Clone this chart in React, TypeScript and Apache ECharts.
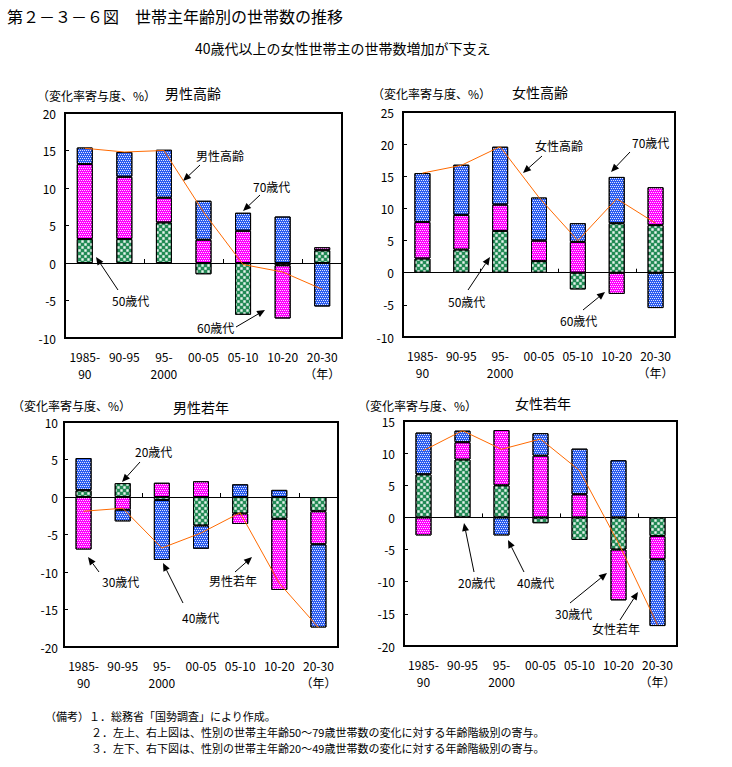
import React, { useEffect, useRef } from 'react';
import * as echarts from 'echarts';

const categories = ['1985-\n90', '90-95', '95-\n2000', '00-05', '05-10', '10-20', '20-30\n（年）'];

// 男性高齢 (50歳代, 60歳代, 70歳代, 合計)
const maleOld50 = [3.2, 3.2, 5.4, -1.5, -6.9, -0.3, 1.7];
const maleOld60 = [10.0, 8.3, 3.3, 3.1, 4.3, -7.1, 0.4];
const maleOld70 = [2.2, 3.3, 6.4, 5.2, 2.4, 6.2, -5.8];
const maleOldTotal = [15.3, 14.8, 15.0, 6.8, -0.2, -1.2, -3.5];

// 女性高齢
const femaleOld50 = [2.2, 3.6, 6.5, 1.8, -2.6, 7.7, 7.4];
const femaleOld60 = [5.7, 5.4, 4.1, 3.2, 4.8, -3.3, 5.9];
const femaleOld70 = [7.6, 7.8, 9.0, 6.7, 2.9, 7.2, -5.5];
const femaleOldTotal = [15.5, 16.7, 19.6, 11.7, 5.0, 11.5, 7.7];

// 男性若年 (20歳代, 30歳代, 40歳代, 合計)
const maleYoung20 = [0.9, 1.85, -0.4, -3.8, -2.2, -2.9, -1.9];
const maleYoung30 = [-7.0, -1.7, 1.9, 2.1, -1.4, -9.5, -4.4];
const maleYoung40 = [4.3, -1.55, -8.0, -3.1, 1.7, 0.95, -11.1];
const maleYoungTotal = [-1.9, -1.5, -6.8, -4.8, -2.1, -11.5, -17.4];

// 女性若年
const femaleYoung20 = [6.7, 9.0, 5.0, -0.9, -3.5, -5.0, -2.9];
const femaleYoung30 = [-2.8, 2.7, 8.6, 9.6, 3.6, -7.9, -3.6];
const femaleYoung40 = [6.5, 1.8, -2.8, 3.5, 7.1, 8.9, -10.4];
const femaleYoungTotal = [10.4, 13.5, 10.6, 12.2, 7.3, -4.0, -16.7];

const yRanges = [
  [-10, 20],
  [-10, 25],
  [-20, 10],
  [-20, 15],
];

const panelTitles = ['男性高齢', '女性高齢', '男性若年', '女性若年'];
const axisTitle = '（変化率寄与度、%）';

const FONT = "'Noto Sans CJK JP', 'Noto Sans CJK SC', sans-serif";

const grids = [
  { left: 65, top: 113, width: 277, height: 225 },
  { left: 403, top: 112, width: 272, height: 225 },
  { left: 64, top: 422, width: 274, height: 225 },
  { left: 404, top: 421, width: 273, height: 225 },
];

const GREEN = '#238a55';
const PINK = '#ff00ff';
const BLUE = '#2b5cf0';

const decalDots = {
  symbol: 'rect',
  symbolSize: 1,
  color: 'rgba(255,255,255,0.85)',
  dashArrayX: [[1, 1], [0, 1, 1, 0]],
  dashArrayY: [1, 1],
  rotation: 0,
};
const decalCheck = {
  symbol: 'rect',
  symbolSize: 0.8,
  color: 'rgba(255,255,255,0.9)',
  dashArrayX: [[3, 3], [0, 3, 3, 0]],
  dashArrayY: [3, 0],
  rotation: 0,
};

function arrow(x1: number, y1: number, x2: number, y2: number) {
  const ang = Math.atan2(y2 - y1, x2 - x1);
  const L = 8;
  const W = 3.5;
  const bx = x2 - L * Math.cos(ang);
  const by = y2 - L * Math.sin(ang);
  const px = -Math.sin(ang) * W;
  const py = Math.cos(ang) * W;
  return [
    { type: 'line', silent: true, shape: { x1, y1, x2: bx, y2: by }, style: { stroke: '#000', lineWidth: 1 } },
    {
      type: 'polygon',
      silent: true,
      shape: { points: [[x2, y2], [bx + px, by + py], [bx - px, by - py]] },
      style: { fill: '#000' },
    },
  ];
}

function txt(text: string, x: number, y: number, size = 12, align = 'left') {
  return {
    type: 'text',
    silent: true,
    x,
    y,
    style: {
      text,
      font: `${size}px ${FONT}`,
      fill: '#000',
      lineHeight: size + 1,
      textAlign: align,
      textVerticalAlign: 'middle',
      align,
      verticalAlign: 'middle',
    },
  };
}

// annotation: label text, label x, label y, arrow from, arrow to
const annotations: [string, number, number, number, number, number, number][] = [
  ['男性高齢', 196, 155, 200, 165, 183, 181],
  ['70歳代', 253, 186, 260, 195, 243, 211],
  ['50歳代', 112, 300, 118, 290, 96, 257],
  ['60歳代', 197, 327, 236, 327, 265, 310],
  ['女性高齢', 535, 145, 542, 156, 523, 173],
  ['70歳代', 632, 142, 630, 152, 611, 172],
  ['50歳代', 448, 301, 468, 290, 490, 257],
  ['60歳代', 560, 320, 583, 310, 605, 292],
  ['20歳代', 135, 451, 140, 462, 122, 482],
  ['30歳代', 102, 581, 99, 572, 88, 557],
  ['40歳代', 182, 617, 183, 603, 163, 563],
  ['男性若年', 209, 580, 235, 572, 252, 557],
  ['20歳代', 458, 582, 474, 572, 464, 523],
  ['40歳代', 517, 582, 524, 572, 508, 540],
  ['30歳代', 555, 613, 570, 603, 607, 573],
  ['女性若年', 592, 628, 620, 620, 638, 592],
];

export default function App() {
  const ref = useRef<HTMLDivElement>(null);

  useEffect(() => {
    document.body.style.margin = '0';
    if (!ref.current) return;
    const chart = echarts.init(ref.current, null, { renderer: 'svg' });

    const panels = [
      [maleOld50, maleOld60, maleOld70, maleOldTotal],
      [femaleOld50, femaleOld60, femaleOld70, femaleOldTotal],
      [maleYoung20, maleYoung30, maleYoung40, maleYoungTotal],
      [femaleYoung20, femaleYoung30, femaleYoung40, femaleYoungTotal],
    ];
    const names = [
      ['50歳代', '60歳代', '70歳代', '男性高齢'],
      ['50歳代', '60歳代', '70歳代', '女性高齢'],
      ['20歳代', '30歳代', '40歳代', '男性若年'],
      ['20歳代', '30歳代', '40歳代', '女性若年'],
    ];

    const xAxis: any[] = [];
    const yAxis: any[] = [];
    const series: any[] = [];

    grids.forEach((g, i) => {
      xAxis.push({
        type: 'category',
        gridIndex: i,
        data: categories,
        position: 'bottom',
        axisLine: { show: false, onZero: false },
        axisTick: { show: false },
        axisLabel: { interval: 0, fontSize: 12, fontFamily: FONT, color: '#000', lineHeight: 17, margin: 10 },
        splitLine: { show: false },
      });
      xAxis.push({
        type: 'category',
        gridIndex: i,
        data: categories,
        position: 'bottom',
        axisLine: { show: true, onZero: true, lineStyle: { color: '#000', width: 1 } },
        axisTick: { show: true, inside: true, length: 4, lineStyle: { color: '#000' } },
        axisLabel: { show: false },
        splitLine: { show: false },
      });
      yAxis.push({
        type: 'value',
        gridIndex: i,
        min: yRanges[i][0],
        max: yRanges[i][1],
        interval: 5,
        axisLine: { show: false },
        axisTick: { show: true, inside: true, length: 4, lineStyle: { color: '#000' } },
        axisLabel: { fontSize: 12, fontFamily: FONT, color: '#000', margin: i === 2 ? 6 : 9 },
        splitLine: { show: false },
      });
      const [a, b, c, t] = panels[i];
      const colors = [GREEN, PINK, BLUE];
      const decals = [decalCheck, decalDots, decalDots];
      [a, b, c].forEach((d, k) => {
        series.push({
          type: 'bar',
          name: names[i][k],
          xAxisIndex: 2 * i,
          yAxisIndex: i,
          stack: 'p' + i,
          barWidth: 16,
          data: d,
          itemStyle: { color: colors[k], borderColor: '#000', borderWidth: 1, decal: decals[k] },
          z: 2,
        });
      });
      series.push({
        type: 'line',
        name: names[i][3],
        xAxisIndex: 2 * i,
        yAxisIndex: i,
        data: t,
        symbol: 'none',
        lineStyle: { color: '#ff6a00', width: 1 },
        z: 5,
      });
    });

    const graphic: any[] = [
      txt('第２－３－６図　世帯主年齢別の世帯数の推移', 7, 16, 16),
      txt('40歳代以上の女性世帯主の世帯数増加が下支え', 195, 48, 14),
      txt(axisTitle, 37, 95, 12),
      txt(panelTitles[0], 165, 93, 14),
      txt(axisTitle, 372, 93, 12),
      txt(panelTitles[1], 512, 92, 14),
      txt(axisTitle, 12, 405, 12),
      txt(panelTitles[2], 173, 407, 14),
      txt(axisTitle, 358, 405, 12),
      txt(panelTitles[3], 515, 403, 14),
      txt('（備考）１．総務省「国勢調査」により作成。', 45, 716, 11),
      txt('２．左上、右上図は、性別の世帯主年齢50～79歳世帯数の変化に対する年齢階級別の寄与。', 91, 732, 11),
      txt('３．左下、右下図は、性別の世帯主年齢20～49歳世帯数の変化に対する年齢階級別の寄与。', 91, 748, 11),
    ];
    annotations.forEach(([label, lx, ly, x1, y1, x2, y2]) => {
      graphic.push(txt(label, lx, ly, 12));
      graphic.push(...arrow(x1, y1, x2, y2));
    });

    chart.setOption({
      animation: false,
      backgroundColor: '#fff',
      textStyle: { fontFamily: FONT },
      grid: grids.map((g) => ({ ...g, show: true, borderColor: '#000', borderWidth: 2, backgroundColor: 'transparent' })),
      xAxis,
      yAxis,
      series,
      graphic,
    });

    return () => chart.dispose();
  }, []);

  return <div ref={ref} style={{ width: 732, height: 767 }} />;
}
